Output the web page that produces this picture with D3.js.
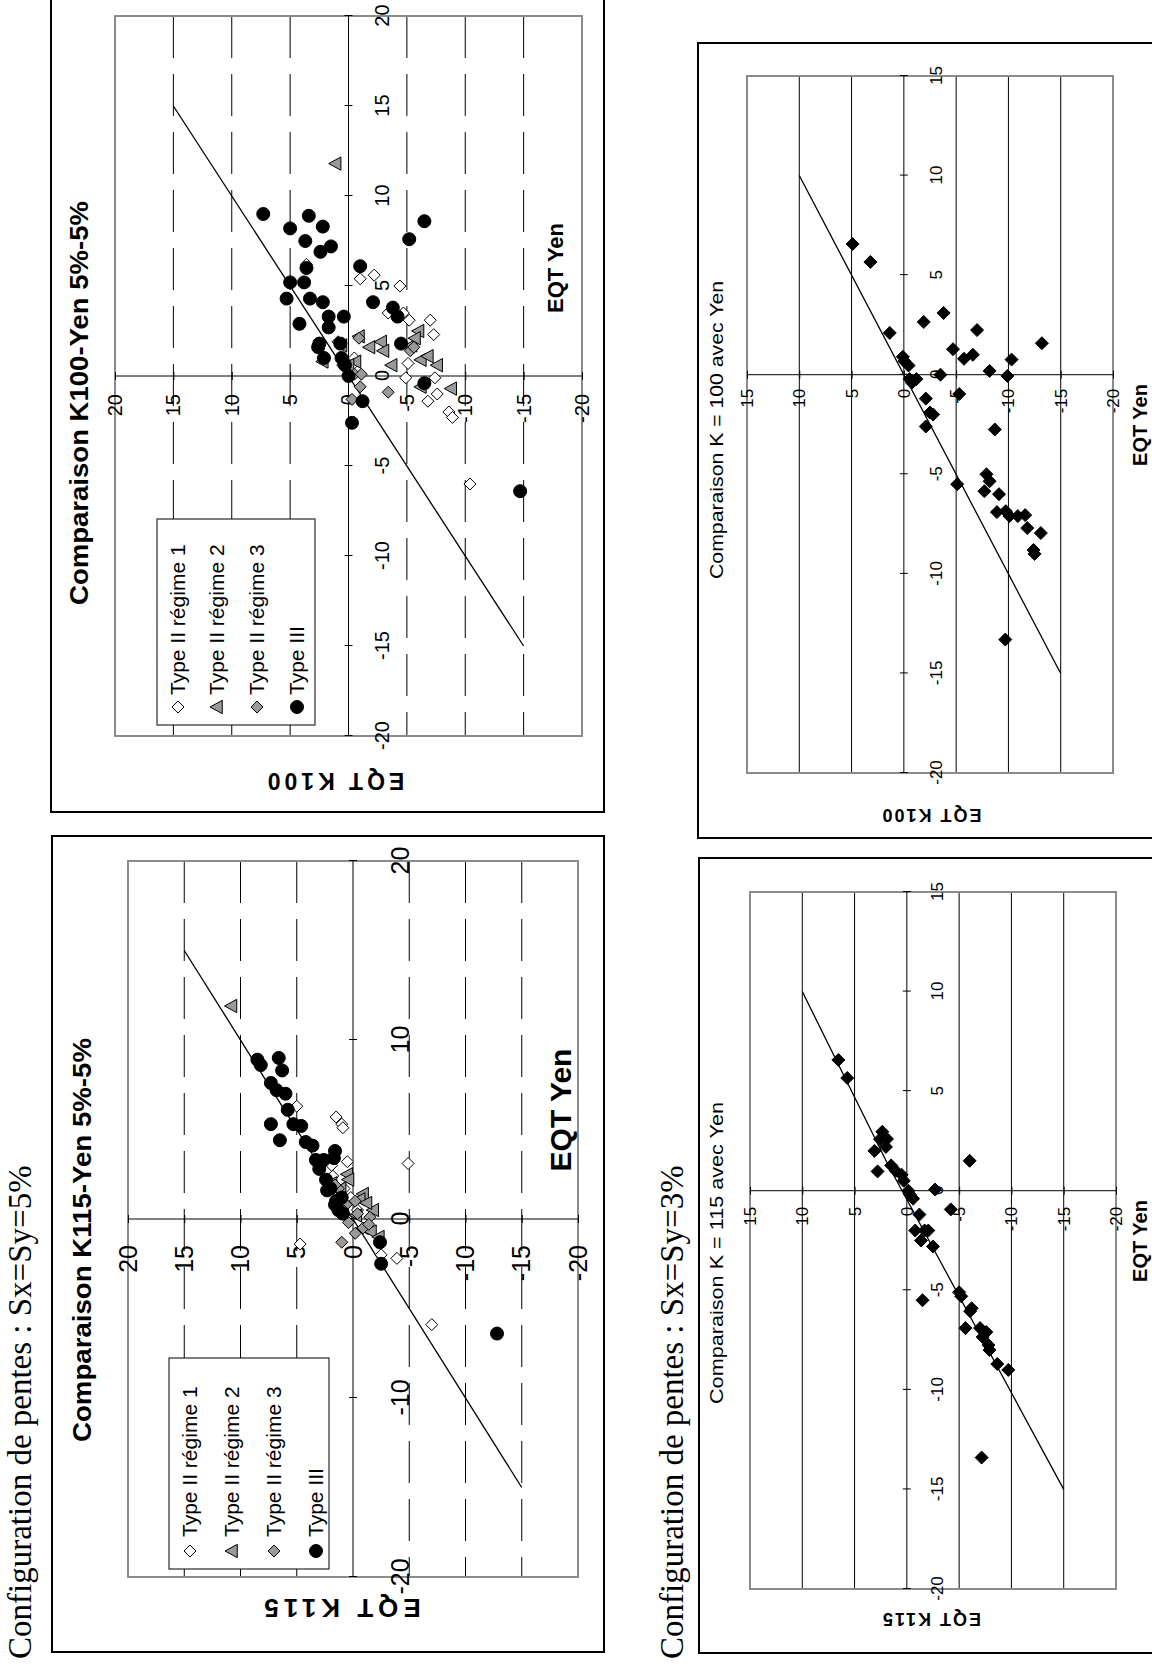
<!DOCTYPE html>
<html><head><meta charset="utf-8">
<script src="https://cdn.jsdelivr.net/npm/d3@7"></script>
<style>body{margin:0;background:#fff}svg{display:block}</style>
</head><body>
<svg id="c" width="1152" height="1671"></svg>
<script>
// ---------- DATA (x = EQT Yen, y = EQT K...) ----------
const seriesNames = ["Type II régime 1", "Type II régime 2", "Type II régime 3", "Type III"];
const ticks5 = [-20, -15, -10, -5, 0, 5, 10, 15, 20];
const ticks10 = [-20, -10, 0, 10, 20];
const ticks3pct = [-20, -15, -10, -5, 0, 5, 10, 15];

// Chart A : K115 5%-5%
const a_r1 = [[6.3,5.0],[5.7,1.5],[5.3,1.0],[5.1,0.9],[3.2,0.5],[3.0,1.9],[3.1,-4.9],[-1.4,4.7],[-2.0,-2.5],[-2.2,-3.9],[-5.9,-7.0],[1.7,0.8],[0.5,-0.4],[2.4,1.8],[1.2,0.2]];
const a_r2 = [[11.9,10.8],[2.5,0.5],[2.2,0.4],[1.4,-0.9],[1.1,-0.6],[0.5,-1.8],[-0.5,-0.9],[-0.7,-1.6],[1.7,1.1],[2.0,1.9],[0.2,-0.3],[-1.0,-2.3],[0.9,-1.2]];
const a_r3 = [[-1.3,1.0],[1.7,1.3],[1.0,-0.2],[0.3,-0.4],[-0.2,0.4],[0.8,0.6],[-0.5,-0.9],[0.1,-1.5],[-0.3,-1.4],[1.9,1.6],[0.5,0.9],[-0.8,-0.2]];
const a_t3 = [[8.9,8.5],[8.6,8.2],[9.0,6.6],[8.3,6.3],[7.6,7.3],[7.2,6.8],[7.0,6.0],[6.1,5.8],[5.3,7.3],[5.3,5.3],[5.2,4.6],[4.4,6.5],[4.3,4.2],[4.1,3.6],[3.3,3.3],[3.3,2.6],[3.8,1.6],[3.4,1.7],[2.8,3.0],[1.7,2.0],[1.6,2.3],[1.0,1.5],[0.5,1.3],[1.2,1.0],[0.3,0.9],[2.2,2.4],[0.8,1.6],[-1.3,-2.4],[-2.5,-2.5],[-6.4,-12.8]];

// Chart B : K100 5%-5%
const b_r1 = [[6.2,3.6],[5.4,-1.0],[5.6,-2.2],[5.0,-4.4],[3.5,-3.4],[3.5,-4.7],[3.1,-5.2],[3.1,-7.0],[2.3,-7.3],[0.7,-5.1],[-0.1,-4.9],[-0.1,-7.4],[-1.4,-6.8],[-1.0,-7.6],[-2.0,-8.6],[-2.3,-8.9],[-6.0,-10.4],[0.6,-0.3],[1.0,-0.5]];
const b_r2 = [[11.8,1.1],[0.8,2.2],[2.2,-0.9],[1.6,-1.8],[1.9,-2.8],[1.4,-3.0],[0.6,-3.7],[2.5,-6.0],[1.7,-5.4],[0.9,-6.2],[1.1,-6.8],[0.6,-7.6],[-0.6,-6.2],[-0.7,-8.8],[0.8,-0.6],[1.7,0.6],[0.6,0.0],[2.1,-5.7]];
const b_r3 = [[2.1,-0.9],[1.9,0.9],[-0.9,-3.4],[-0.6,-1.0],[-1.3,-0.3],[0.1,-0.5],[0.1,-1.1],[0.6,0.5],[1.4,-5.3],[1.6,-5.6]];
const b_t3 = [[9.0,7.3],[8.2,5.0],[8.9,3.4],[8.3,2.2],[7.5,3.7],[7.2,1.5],[6.9,2.4],[6.0,3.6],[4.3,3.3],[5.2,3.8],[5.2,5.0],[4.3,5.3],[4.1,2.2],[2.9,4.2],[3.3,0.4],[3.3,1.7],[2.7,1.7],[1.6,2.6],[1.8,2.5],[1.0,2.1],[1.8,0.7],[1.0,0.6],[0.6,0.3],[0.0,0.0],[6.1,-1.0],[4.1,-2.1],[3.8,-3.8],[3.3,-4.2],[1.8,-4.5],[7.6,-5.2],[8.6,-6.5],[-0.4,-6.5],[-1.4,-1.2],[-2.6,-0.3],[-6.4,-14.7]];

// Chart C : K = 115, 3%
const c_pts = [[6.57,6.55],[5.66,5.7],[2.96,2.35],[2.59,2.57],[2.6,1.9],[2.2,2.0],[2.0,3.1],[0.97,2.8],[1.27,1.5],[1.0,1.07],[0.8,0.5],[0.5,0.3],[0.0,-0.15],[-0.2,-0.3],[-0.4,-0.6],[-1.2,-1.2],[-2.0,-0.8],[-2.0,-1.7],[-2.0,-2.05],[-2.5,-1.35],[-2.8,-2.5],[0.06,-2.7],[-0.94,-4.2],[1.5,-6.0],[-5.5,-1.5],[-5.1,-5.0],[-5.3,-5.2],[-5.9,-6.2],[-6.05,-6.05],[-6.9,-5.6],[-6.9,-7.0],[-7.1,-7.6],[-7.35,-7.25],[-7.75,-7.8],[-8.0,-7.9],[-8.7,-8.65],[-9.0,-9.7],[-13.4,-7.15]];
const c_line = [[10,10],[1.3,1.8],[-15,-15]];

// Chart D : K = 100, 3%
const d_pts = [[6.56,4.9],[5.66,3.2],[2.1,1.35],[2.65,-1.9],[3.1,-3.8],[0.9,0.1],[0.68,-0.05],[0.46,-0.45],[-0.22,-0.55],[-0.4,-0.77],[-0.22,-1.2],[0,-3.5],[1.28,-4.7],[0.8,-5.75],[1.0,-6.6],[2.24,-7.0],[0.19,-8.2],[-0.06,-9.9],[0.76,-10.3],[1.58,-13.2],[-1.2,-2.1],[-1.9,-2.5],[-2.0,-2.8],[-2.6,-2.1],[-0.97,-5.3],[-2.75,-8.7],[-5.5,-5.1],[-5.0,-7.9],[-5.35,-8.2],[-5.85,-7.7],[-6.0,-9.1],[-6.9,-8.9],[-6.85,-9.75],[-7.1,-10.1],[-7.1,-10.9],[-7.05,-11.6],[-7.7,-11.8],[-7.95,-13.1],[-8.8,-12.4],[-9.0,-12.5],[-13.3,-9.7]];
const d_line = [[10,10],[-15,-15]];
const ab_line = [[15,15],[-15,-15]];

// ---------- DRAWING ----------
const SANS = "'Liberation Sans', Arial, sans-serif";
const SERIF = "'Liberation Serif', 'Times New Roman', serif";
const svg = d3.select('#c');
svg.append('rect').attr('width',1152).attr('height',1671).attr('fill','#fff');
// landscape page rotated 90° counter-clockwise
const page = svg.append('g').attr('transform','translate(0,1671) rotate(-90)');

const GRAY = '#999999';
const shapes = {
  diamond: r => `M0,${-r}L${r},0L0,${r}L${-r},0Z`,
  triangle: r => `M0,${-r}L${r*0.95},${r*0.75}L${-r*0.95},${r*0.75}Z`
};
function marker(sel, type, r, fill, stroke){
  if(type==='circle') return sel.append('circle').attr('r',r).attr('fill',fill).attr('stroke',stroke).attr('stroke-width',1);
  return sel.append('path').attr('d',shapes[type](r)).attr('fill',fill).attr('stroke',stroke).attr('stroke-width',1);
}

function drawChart(c){
  const g = page.append('g');
  g.append('rect').attr('x',c.outer[0]).attr('y',c.outer[1])
    .attr('width',c.outer[2]-c.outer[0]).attr('height',c.outer[3]-c.outer[1])
    .attr('fill','#fff').attr('stroke','#000').attr('stroke-width',2);
  const x = d3.scaleLinear().domain(c.xDom).range([c.plot[0],c.plot[2]]);
  const y = d3.scaleLinear().domain(c.yDom).range([c.plot[3],c.plot[1]]);
  // gridlines (horizontal on page), drawn from right to left
  g.selectAll('line.grid').data(c.grid).join('line').attr('class','grid')
    .attr('x1',x(c.xDom[1])).attr('x2',x(c.xDom[0]))
    .attr('y1',d=>y(d)).attr('y2',d=>y(d))
    .attr('stroke','#000').attr('stroke-width',1)
    .attr('stroke-dasharray',c.dash||null);
  // plot border
  g.append('rect').attr('x',c.plot[0]).attr('y',c.plot[1])
    .attr('width',c.plot[2]-c.plot[0]).attr('height',c.plot[3]-c.plot[1])
    .attr('fill','none').attr('stroke','#8c8c8c').attr('stroke-width',2);
  // axes at zero
  g.append('line').attr('x1',x(c.xDom[0])).attr('x2',x(c.xDom[1])).attr('y1',y(0)).attr('y2',y(0)).attr('stroke','#000').attr('stroke-width',1);
  g.append('line').attr('x1',x(0)).attr('x2',x(0)).attr('y1',y(c.yDom[0])).attr('y2',y(c.yDom[1])).attr('stroke','#000').attr('stroke-width',1);
  // tick marks
  const tm = g.append('g').attr('transform',`translate(0,${y(0)-4})`)
    .call(d3.axisBottom(x).tickValues(c.xTicks).tickSize(8).tickFormat(''));
  tm.select('.domain').remove(); tm.selectAll('line').attr('stroke','#000');
  const tmy = g.append('g').attr('transform',`translate(${x(0)+4},0)`)
    .call(d3.axisLeft(y).tickValues(c.yTicks).tickSize(8).tickFormat(''));
  tmy.select('.domain').remove(); tmy.selectAll('line').attr('stroke','#000');
  // tick labels
  const fmt = d => String(d);
  const xl = g.append('g').attr('transform',`translate(0,${y(0)})`)
    .call(d3.axisBottom(x).tickValues(c.xTicks).tickSize(0).tickPadding(c.xPad).tickFormat(fmt));
  xl.select('.domain').remove();
  xl.attr('font-size',null).attr('font-family',null);
  xl.selectAll('text').attr('font-size',c.fs).attr('font-family',SANS).attr('fill','#000');
  const yl = g.append('g').attr('transform',`translate(${x(0)},0)`)
    .call(d3.axisLeft(y).tickValues(c.yTicks).tickSize(0).tickPadding(c.yPad).tickFormat(fmt));
  yl.select('.domain').remove();
  yl.attr('font-size',null).attr('font-family',null);
  yl.selectAll('text').attr('font-size',c.fs).attr('font-family',SANS).attr('fill','#000');
  // diagonal line
  g.append('path').datum(c.line)
    .attr('d',d3.line().x(d=>x(d[0])).y(d=>y(d[1])))
    .attr('fill','none').attr('stroke','#000').attr('stroke-width',1.3);
  // series
  c.series.forEach(s=>{
    const sg = g.append('g');
    s.data.forEach(d=>{
      const m = sg.append('g').attr('transform',`translate(${x(d[0])},${y(d[1])})`);
      marker(m, s.type, s.r, s.fill, s.stroke);
    });
  });
  // titles
  const t = c.title;
  g.append('text').attr('x',t.x).attr('y',t.y).attr('text-anchor','middle')
    .attr('font-family',SANS).attr('font-size',t.fs).attr('font-weight',t.bold?'bold':'normal')
    .attr('textLength',t.len).attr('lengthAdjust','spacingAndGlyphs').text(t.text);
  const xt = c.xTitle;
  g.append('text').attr('x',xt.x).attr('y',xt.y).attr('text-anchor','middle')
    .attr('font-family',SANS).attr('font-size',xt.fs).attr('font-weight','bold').text('EQT Yen');
  const yt = c.yTitle;
  g.append('text').attr('transform',`translate(${yt.x},${yt.y}) rotate(-90)`).attr('text-anchor','middle')
    .attr('font-family',SANS).attr('font-size',yt.fs).attr('font-weight','bold')
    .attr('letter-spacing',yt.ls||0).text(yt.text);
  // legend
  if(c.legend){
    const L = c.legend;
    const lg = g.append('g');
    lg.append('rect').attr('x',L.box[0]).attr('y',L.box[1]).attr('width',L.box[2]-L.box[0]).attr('height',L.box[3]-L.box[1])
      .attr('fill','#fff').attr('stroke','#000').attr('stroke-width',1);
    c.series.forEach((s,i)=>{
      const row = lg.append('g').attr('transform',`translate(0,${L.rows[i]})`);
      const m = row.append('g').attr('transform',`translate(${L.mx},0)`);
      marker(m, s.type, s.r, s.fill, s.stroke);
      row.append('text').attr('x',L.tx).attr('y',0).attr('dy','0.35em')
        .attr('font-family',SANS).attr('font-size',L.fs).text(seriesNames[i]);
    });
  }
}

function typeSeries(r1,r2,r3,t3){
  return [
    {data:r1, type:'diamond', r:6, fill:'#fff', stroke:'#000'},
    {data:r2, type:'triangle', r:7, fill:GRAY, stroke:'#000'},
    {data:r3, type:'diamond', r:6, fill:GRAY, stroke:'#000'},
    {data:t3, type:'circle', r:6.5, fill:'#000', stroke:'#000'}
  ];
}

// Chart A
drawChart({
  outer:[19,52,835,604], plot:[94,128,810,578], xDom:[-20,20], yDom:[-20,20],
  grid:[-15,-10,-5,5,10,15], dash:'42,16',
  xTicks:ticks10, yTicks:ticks5, xPad:38, yPad:26, fs:25,
  line:ab_line, series:typeSeries(a_r1,a_r2,a_r3,a_t3),
  title:{text:'Comparaison K115-Yen 5%-5%', x:431, y:91, fs:26, bold:true, len:404},
  xTitle:{x:561, y:571, fs:30},
  yTitle:{text:'EQT K115', x:72, y:340, fs:26, ls:5},
  legend:{box:[102,169,313,329], rows:[190,232,274,316], mx:120, tx:134, fs:21}
});
// Chart B
drawChart({
  outer:[859,51,1700,604], plot:[935,115,1655,582], xDom:[-20,20], yDom:[-20,20],
  grid:[-15,-10,-5,5,10,15], dash:'42,16',
  xTicks:ticks5, yTicks:ticks5, xPad:26, yPad:18, fs:20,
  line:ab_line, series:typeSeries(b_r1,b_r2,b_r3,b_t3),
  title:{text:'Comparaison K100-Yen 5%-5%', x:1268, y:88, fs:26, bold:true, len:404},
  xTitle:{x:1403, y:563, fs:22},
  yTitle:{text:'EQT K100', x:898, y:334, fs:23, ls:4},
  legend:{box:[946,157,1152,315], rows:[178,217,257,297], mx:964, tx:976, fs:21}
});
// Chart C
drawChart({
  outer:[18,699,813,1170], plot:[82,750,779,1116], xDom:[-20,15], yDom:[-20,15],
  grid:[-15,-10,-5,5,10], dash:null,
  xTicks:ticks3pct, yTicks:ticks3pct, xPad:24, yPad:16, fs:17,
  line:c_line, series:[{data:c_pts, type:'diamond', r:6.5, fill:'#000', stroke:'#000'}],
  title:{text:'Comparaison K = 115 avec Yen', x:418, y:723, fs:19, bold:false, len:302},
  xTitle:{x:430, y:1147, fs:20},
  yTitle:{text:'EQT K115', x:58, y:931, fs:18, ls:2}
});
// Chart D
drawChart({
  outer:[833,698,1628,1170], plot:[898,747,1595,1113], xDom:[-20,15], yDom:[-20,15],
  grid:[-15,-10,-5,5,10], dash:null,
  xTicks:ticks3pct, yTicks:ticks3pct, xPad:26, yPad:14, fs:17,
  line:d_line, series:[{data:d_pts, type:'diamond', r:6.5, fill:'#000', stroke:'#000'}],
  title:{text:'Comparaison K = 100 avec Yen', x:1241, y:723, fs:19, bold:false, len:298},
  xTitle:{x:1246, y:1147, fs:20},
  yTitle:{text:'EQT K100', x:862, y:931, fs:18, ls:2}
});
// page captions
page.append('text').attr('x',12).attr('y',31).attr('font-family',SERIF).attr('font-size',33)
  .text('Configuration de pentes : Sx=Sy=5%');
page.append('text').attr('x',12).attr('y',683).attr('font-family',SERIF).attr('font-size',33)
  .text('Configuration de pentes : Sx=Sy=3%');
</script>
</body></html>
